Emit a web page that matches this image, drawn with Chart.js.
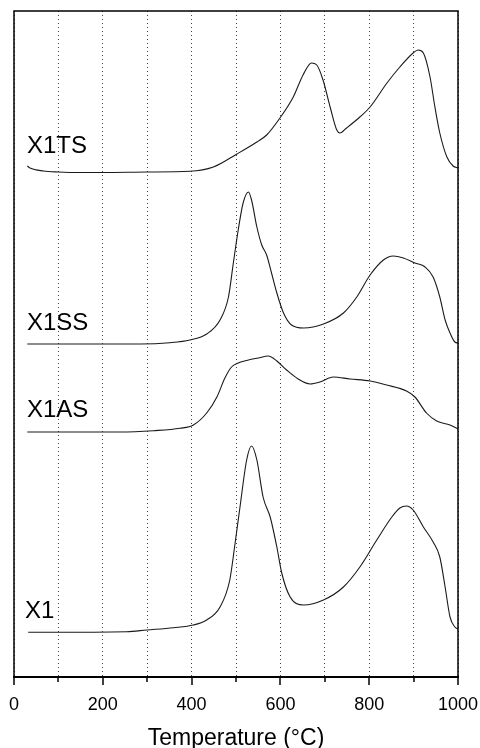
<!DOCTYPE html>
<html>
<head>
<meta charset="utf-8">
<script src="https://cdn.jsdelivr.net/npm/chart.js@4"></script>
<style>
  html,body{margin:0;padding:0;background:#fff;}
  #wrap{width:480px;height:748px;position:relative;}
</style>
</head>
<body>
<div id="wrap"><canvas id="ch"></canvas></div>
<script>
// curves are stacked with an arbitrary vertical offset (units ~ plot px from the axis)
const tX1TS=[30,36,66,100,150,200,300,396,449,502,547,569,599,629,651,670,682,696,712,727,734,749,779,802,840,869,899,910,922,937,948,959,975,989,1000];
const vX1TS=[511,509,506,505,504.5,504.5,505,505.7,510,523,535,542,559,580,602,614,612,597,570,547,544,549,560,570,594,610,624,627,624,600,570,544,520,511,509];

const tX1SS=[30,111,284,351,396,434,464,483,494,505,516,528,535,547,558,569,580,592,607,625,652,697,742,772,802,832,854,877,903,926,944,959,971,982,993,1000];
const vX1SS=[333,333,333,334.3,337,343,357,380,414,447,474,485,477,450,432,422,404,384,364,352,349,353,364,380,402,417,421,419,414,410,400,380,357,344,335,334];

const tX1AS=[30,239,314,374,404,434,457,475,490,505,528,550,573,592,614,640,667,689,719,757,802,839,884,903,929,952,982,1000];
const vX1AS=[245,245,246.3,248.7,252,264,280,299,310,314,317,319,321,316,307,298,293,295,300,298,296,292,286,280,264,256,252,248];

const tX1=[32,254,299,359,404,434,464,486,498,509,524,535,547,561,577,592,603,622,652,697,742,779,817,851,869,884,899,922,944,959,971,982,993,1000];
const vX1=[44.7,45.3,47,49.3,52,57,70,97,134,170,217,231,217,180,160,130,104,80,72,77,90,110,137,160,169,171,167,150,135,120,90,60,50,48];

const curveNames=['X1TS','X1SS','X1AS','X1'];
const labelT=[29,29,29,25];
const labelV=[524,347,260,59];
const xTickLabels=[0,200,400,600,800,1000];

const FONT='"Liberation Sans", Arial, sans-serif';

function pts(t,v){ return t.map((x,i)=>({x:x,y:v[i]})); }
function ds(t,v){
  return {data:pts(t,v),borderColor:'#1a1a1a',borderWidth:1.1,pointRadius:0,
          fill:false,cubicInterpolationMode:'monotone'};
}

// frame, tick marks and curve names
const framePlugin={
  id:'frame',
  afterDraw(chart){
    const c=chart.ctx, a=chart.chartArea, sx=chart.scales.x, sy=chart.scales.y;
    c.save();
    c.strokeStyle='#000';
    c.lineWidth=1.5;
    c.strokeRect(a.left,a.top,a.right-a.left,a.bottom-a.top);
    c.lineWidth=2;
    c.beginPath(); c.moveTo(a.left-1,a.bottom); c.lineTo(a.right+1,a.bottom); c.stroke();
    c.lineWidth=1.5;
    for(let v=0;v<=1000;v+=100){
      const px=Math.round(sx.getPixelForValue(v));
      const len=(v%200===0)?8:5;
      c.beginPath(); c.moveTo(px,a.bottom); c.lineTo(px,a.bottom+len); c.stroke();
    }
    c.fillStyle='#000';
    c.font='24px '+FONT;
    c.textBaseline='alphabetic';
    c.textAlign='left';
    curveNames.forEach((n,i)=>{
      c.fillText(n,sx.getPixelForValue(labelT[i]),sy.getPixelForValue(labelV[i]));
    });
    c.restore();
  }
};

new Chart(document.getElementById('ch').getContext('2d'),{
  type:'line',
  data:{datasets:[ds(tX1TS,vX1TS),ds(tX1SS,vX1SS),ds(tX1AS,vX1AS),ds(tX1,vX1)]},
  options:{
    responsive:true,maintainAspectRatio:false,animation:false,
    layout:{padding:{left:14,right:22,top:11,bottom:0}},
    plugins:{legend:{display:false},tooltip:{enabled:false}},
    scales:{
      x:{type:'linear',min:0,max:1000,
        border:{display:false,dash:[1,3]},
        grid:{color:'#444',lineWidth:1,drawTicks:false},
        ticks:{stepSize:100,autoSkip:false,maxRotation:0,padding:17,color:'#000',
          font:{family:FONT,size:18},
          callback:v=>xTickLabels.includes(v)?String(v):''},
        title:{display:true,text:'Temperature (°C)',color:'#000',
          font:{family:FONT,size:23,lineHeight:1},padding:{top:0,bottom:-2}},
        afterFit(s){ s.height=71; s.paddingLeft=0; s.paddingRight=0; }
      },
      y:{type:'linear',min:0,max:666,display:false}
    }
  },
  plugins:[framePlugin]
});
</script>
</body>
</html>
